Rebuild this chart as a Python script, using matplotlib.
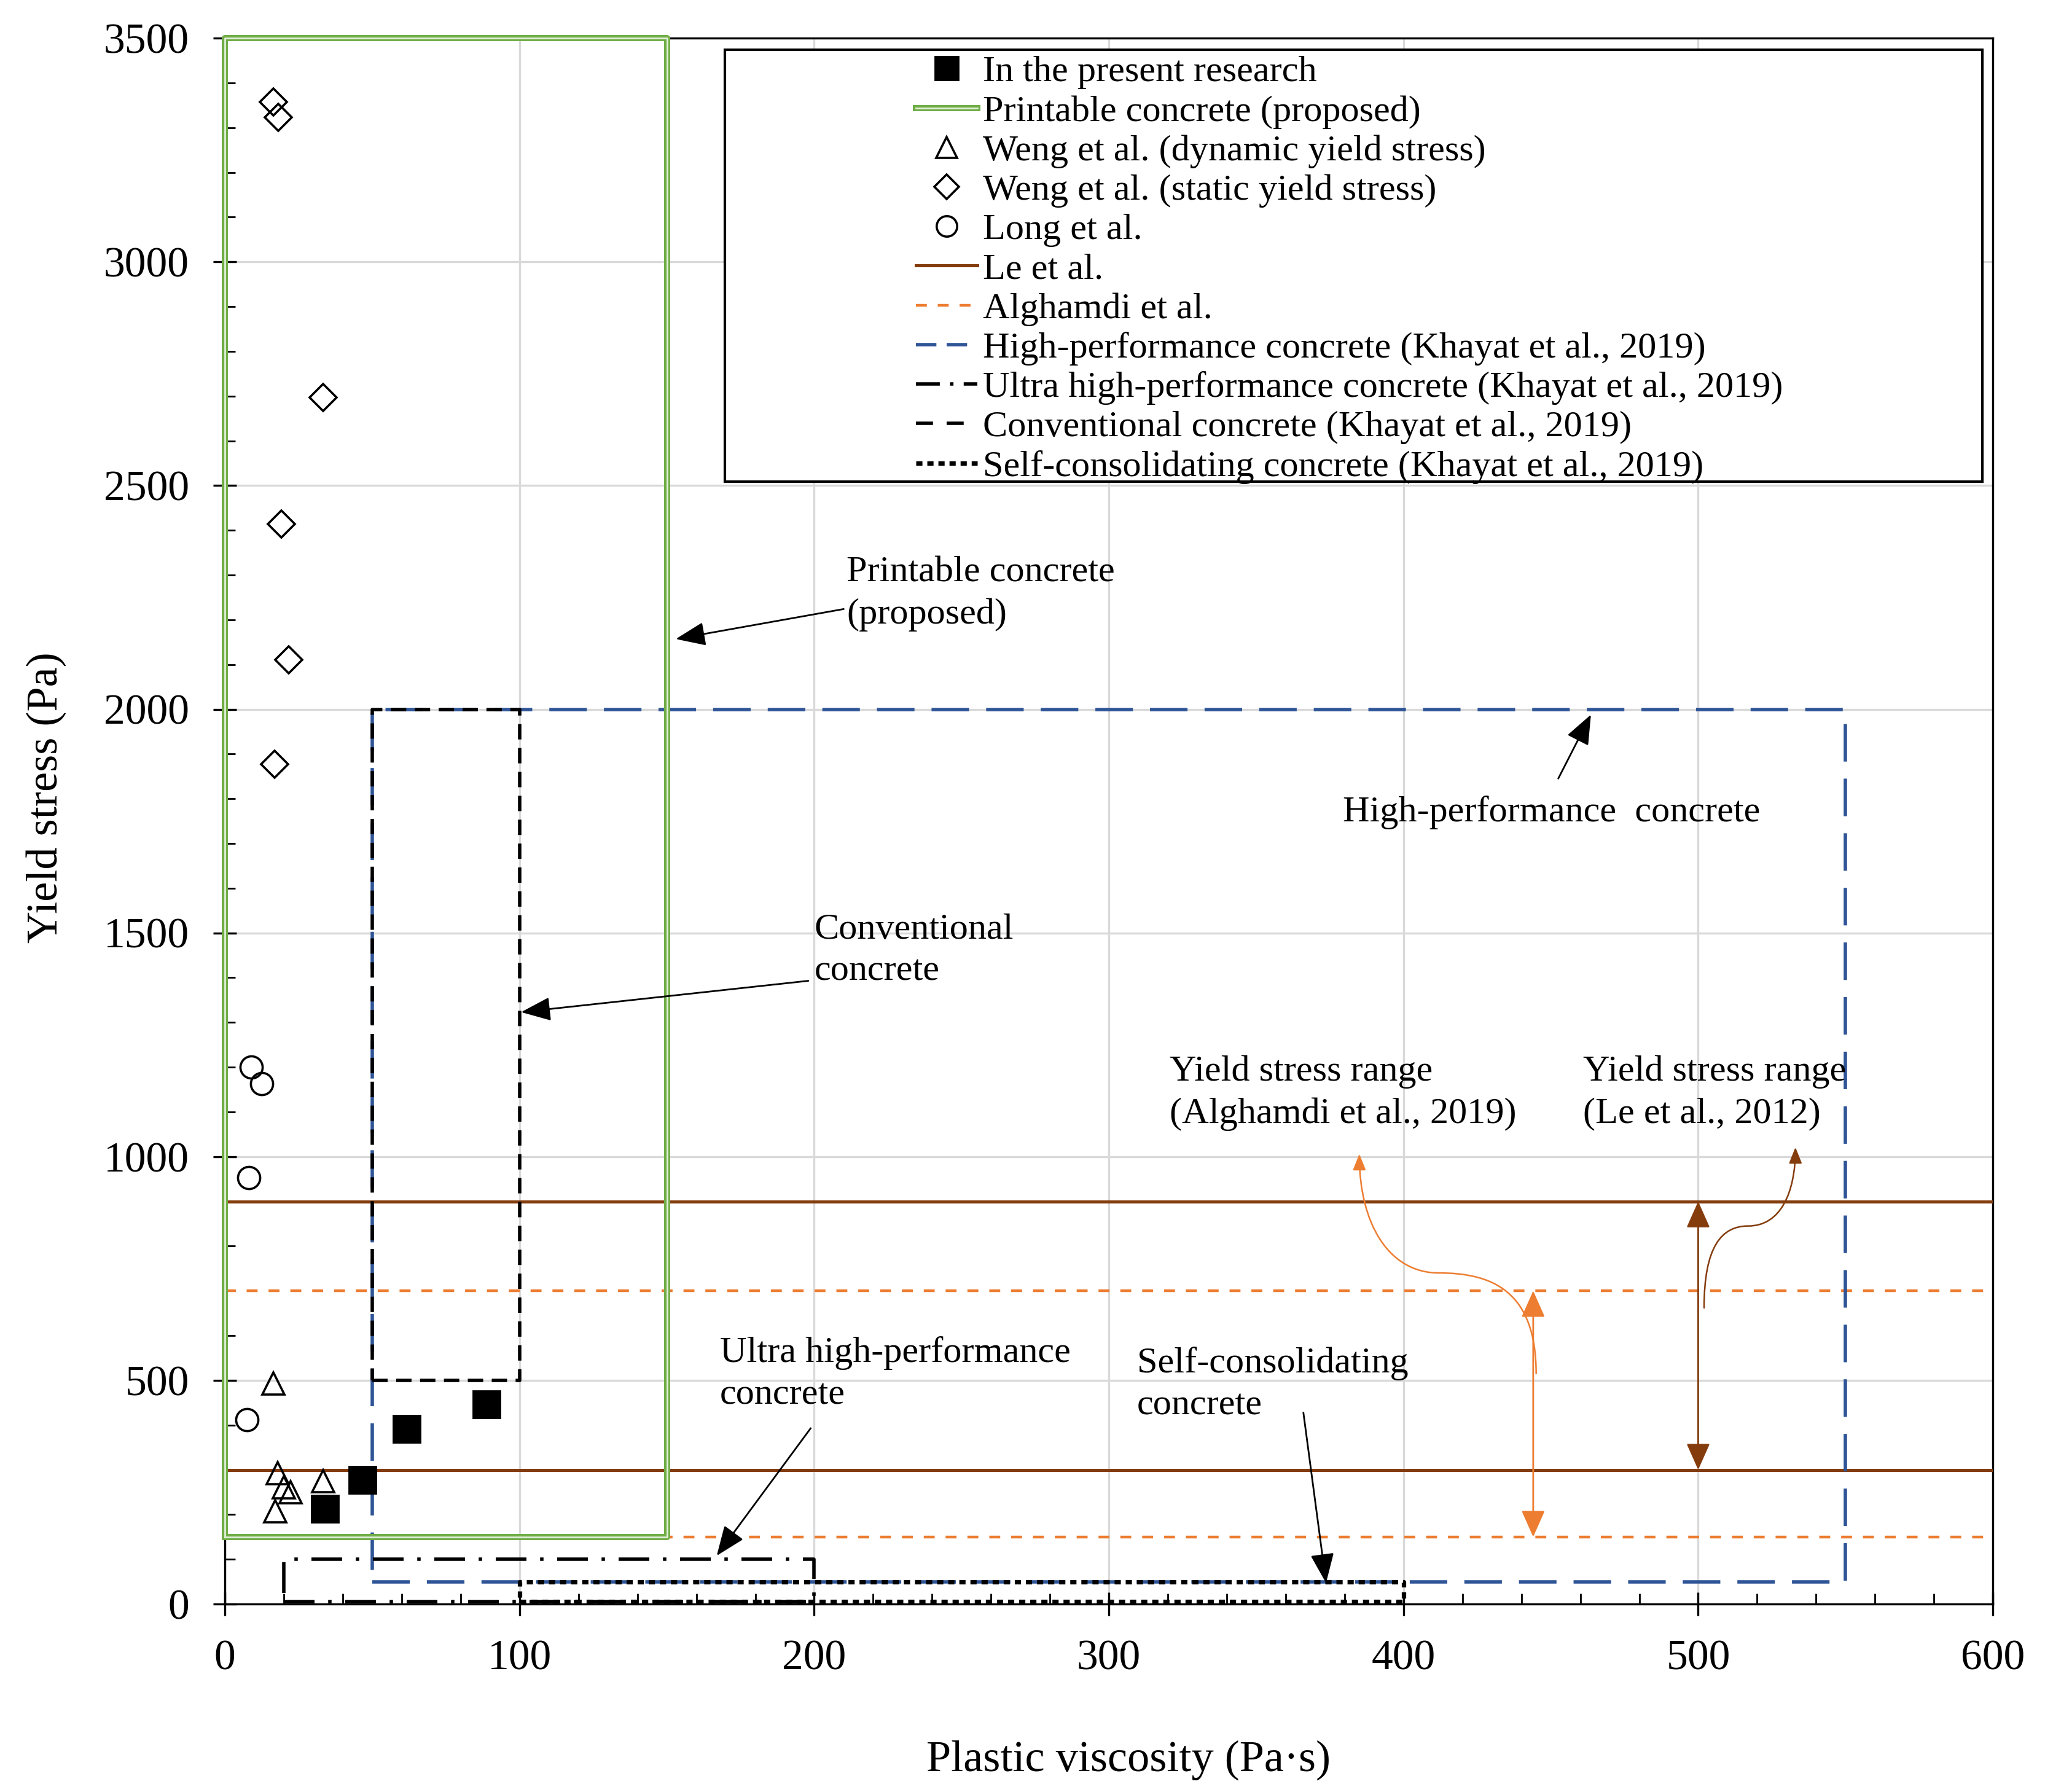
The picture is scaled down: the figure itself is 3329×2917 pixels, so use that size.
import numpy as np
import matplotlib.pyplot as plt
from matplotlib.lines import Line2D
from matplotlib.patches import Rectangle, FancyArrowPatch
from matplotlib.path import Path
from matplotlib.ticker import MultipleLocator

plt.rcParams['font.family'] = ['Liberation Serif', 'DejaVu Serif']

# data
present_x = [34, 46.6, 61.6, 88.7]
present_y = [213, 278, 391, 446]
weng_dyn_x = [16.4, 17.8, 20, 22.2, 33.3, 17.1]
weng_dyn_y = [493, 292, 261, 250, 275, 208]
weng_sta_x = [16.4, 18.1, 33.3, 19.1, 21.7, 16.9]
weng_sta_y = [3357, 3323, 2697, 2414, 2110, 1877]
long_x = [8.9, 12.4, 8.0, 7.5]
long_y = [1200, 1163, 953, 412]
le_levels = [300, 900]
alghamdi_levels = [150, 700]
# ranges (x0, x1, y0, y1)
printable_box = (0, 150, 150, 3500)
hpc_box = (50, 550, 50, 2000)
uhpc_box = (20, 200, 5, 100)
cc_box = (50, 100, 500, 2000)
scc_box = (100, 400, 5, 50)

green = '#70AD47'
green_in = '#E2EFD9'
brown = '#843C0C'
orange = '#ED7D31'
blue = '#2F5597'

fig = plt.figure(figsize=(16.645, 14.585), dpi=200)
ax = fig.add_axes([0.110, 0.1049, 0.8645, 0.8738])


def box(b, **kw):
    x0, x1, y0, y1 = b
    return ax.plot([x0, x1, x1, x0, x0], [y0, y0, y1, y1, y0], **kw)


# horizontal ranges
for v in le_levels:
    ax.axhline(v, color=brown, lw=1.8, zorder=3)
for v in alghamdi_levels:
    ax.axhline(v, color=orange, lw=1.6, ls=(0, (4, 4)), zorder=3)

box(hpc_box, color=blue, lw=2.0, ls=(0, (11, 5)), zorder=4)
box(cc_box, color='k', lw=2.0, ls=(0, (4.5, 2.5)), zorder=4)
box(uhpc_box, color='k', lw=2.0, ls=(0, (9, 4, 1, 4)), zorder=4)
box(scc_box, color='k', lw=2.6, ls=(0, (1.4, 1.1)), zorder=4)
box(printable_box, color=green, lw=3.6, zorder=5, clip_on=False)
box(printable_box, color=green_in, lw=1.0, zorder=5, clip_on=False)

ax.plot(present_x, present_y, 's', color='k', ms=16, zorder=6)
ax.plot(weng_dyn_x, weng_dyn_y, '^', mfc='none', mec='k', mew=1.3, ms=13, zorder=6)
ax.plot(weng_sta_x, weng_sta_y, 'D', mfc='none', mec='k', mew=1.3, ms=11, zorder=6)
ax.plot(long_x, long_y, 'o', mfc='none', mec='k', mew=1.3, ms=13, zorder=6)

ax.set_xlim(0, 600)
ax.set_ylim(0, 3500)
ax.xaxis.set_major_locator(MultipleLocator(100))
ax.xaxis.set_minor_locator(MultipleLocator(20))
ax.yaxis.set_major_locator(MultipleLocator(500))
ax.yaxis.set_minor_locator(MultipleLocator(100))
ax.grid(True, which='major', color='#D9D9D9', lw=1.2, zorder=0)
ax.set_axisbelow(True)
ax.tick_params(which='major', direction='inout', length=14, width=1.2,
               labelsize=25, pad=14)
ax.tick_params(which='minor', direction='in', length=6, width=1.0)
for s in ax.spines.values():
    s.set_linewidth(1.2)
ax.set_xlabel('Plastic viscosity (Pa·s)', fontsize=26, labelpad=36)
ax.set_ylabel('Yield stress (Pa)', fontsize=26, labelpad=22)
ax.xaxis.label.set_x(0.511)
ax.yaxis.label.set_y(0.515)

# legend
frame = Rectangle((0.2827, 0.7169), 0.7114, 0.2756, transform=ax.transAxes,
                  facecolor='white', edgecolor='k', lw=1.5, zorder=7)
ax.add_patch(frame)
handles = [
    Line2D([], [], marker='s', color='k', ls='none', ms=14),
    (Line2D([], [], color=green, lw=3.6), Line2D([], [], color=green_in, lw=1.0)),
    Line2D([], [], marker='^', mfc='none', mec='k', ls='none', ms=12, mew=1.3),
    Line2D([], [], marker='D', mfc='none', mec='k', ls='none', ms=10, mew=1.3),
    Line2D([], [], marker='o', mfc='none', mec='k', ls='none', ms=12, mew=1.3),
    Line2D([], [], color=brown, lw=1.8),
    Line2D([], [], color=orange, lw=1.6, ls=(0, (4, 4))),
    Line2D([], [], color=blue, lw=2.0, ls=(0, (6, 3))),
    Line2D([], [], color='k', lw=2.0, ls=(0, (7, 3, 1, 3))),
    Line2D([], [], color='k', lw=2.0, ls=(0, (5, 4))),
    Line2D([], [], color='k', lw=2.6, ls=(0, (1.4, 1.1))),
]
labels = [
    'In the present research',
    'Printable concrete (proposed)',
    'Weng et al. (dynamic yield stress)',
    'Weng et al. (static yield stress)',
    'Long et al.',
    'Le et al.',
    'Alghamdi et al.',
    'High-performance concrete (Khayat et al., 2019)',
    'Ultra high-performance concrete (Khayat et al., 2019)',
    'Conventional concrete (Khayat et al., 2019)',
    'Self-consolidating concrete (Khayat et al., 2019)',
]
leg = ax.legend(handles, labels, loc='upper left', bbox_to_anchor=(0.391, 0.989),
                frameon=False, fontsize=21.7, handlelength=1.65, handletextpad=0.15,
                labelspacing=0.15, borderpad=0, borderaxespad=0)
leg.set_zorder(8)

# annotations
akw = dict(arrowstyle='-|>,head_length=0.5,head_width=0.2', color='k', lw=1.0,
           mutation_scale=30, shrinkA=0, shrinkB=0)
tkw = dict(fontsize=21.7, ha='left', va='center', linespacing=1.35, zorder=9)
ax.text(211, 2258, 'Printable concrete\n(proposed)', **tkw)
ax.annotate('', xy=(153, 2157), xytext=(210, 2224), arrowprops=akw, zorder=9)
ax.text(200, 1460, 'Conventional\nconcrete', **tkw)
ax.annotate('', xy=(100.5, 1323), xytext=(198, 1393), arrowprops=akw, zorder=9)
ax.text(379.5, 1770, 'High-performance  concrete', **tkw)
ax.annotate('', xy=(463.6, 1988), xytext=(452.5, 1845), arrowprops=akw, zorder=9)
ax.text(168, 514, 'Ultra high-performance\nconcrete', **tkw)
ax.annotate('', xy=(166.9, 108), xytext=(198.8, 393), arrowprops=akw, zorder=9)
ax.text(309.5, 491, 'Self-consolidating\nconcrete', **tkw)
ax.annotate('', xy=(373.7, 47), xytext=(366, 428), arrowprops=akw, zorder=9)
ax.text(320.6, 1142, 'Yield stress range\n(Alghamdi et al., 2019)', **tkw)
ax.text(461, 1142, 'Yield stress range\n(Le et al., 2012)', **tkw)

# double arrows showing the ranges
dkw = dict(arrowstyle='<|-|>,head_length=0.45,head_width=0.2', lw=1.0,
           mutation_scale=30, shrinkA=0, shrinkB=0)
ax.annotate('', xy=(444, alghamdi_levels[1]), xytext=(444, alghamdi_levels[0]),
            arrowprops=dict(color=orange, **dkw), zorder=9)
ax.annotate('', xy=(500, le_levels[1]), xytext=(500, le_levels[0]),
            arrowprops=dict(color=brown, **dkw), zorder=9)

# curved leaders to the range labels
C = Path.CURVE4
p1 = Path([(445, 515), (445, 700), (430, 740), (412, 740),
           (395, 740), (385, 850), (385, 1006)],
          [Path.MOVETO, C, C, C, C, C, C])
p2 = Path([(502, 662), (502, 800), (508, 845), (517, 845),
           (528, 845), (533, 920), (533, 1021)],
          [Path.MOVETO, C, C, C, C, C, C])
for p, c in [(p1, orange), (p2, brown)]:
    ax.add_patch(FancyArrowPatch(path=p, arrowstyle='-|>,head_length=0.5,head_width=0.2',
                                 mutation_scale=16, color=c, lw=0.9,
                                 transform=ax.transData, zorder=9))

fig.savefig('out.png', dpi=200)
